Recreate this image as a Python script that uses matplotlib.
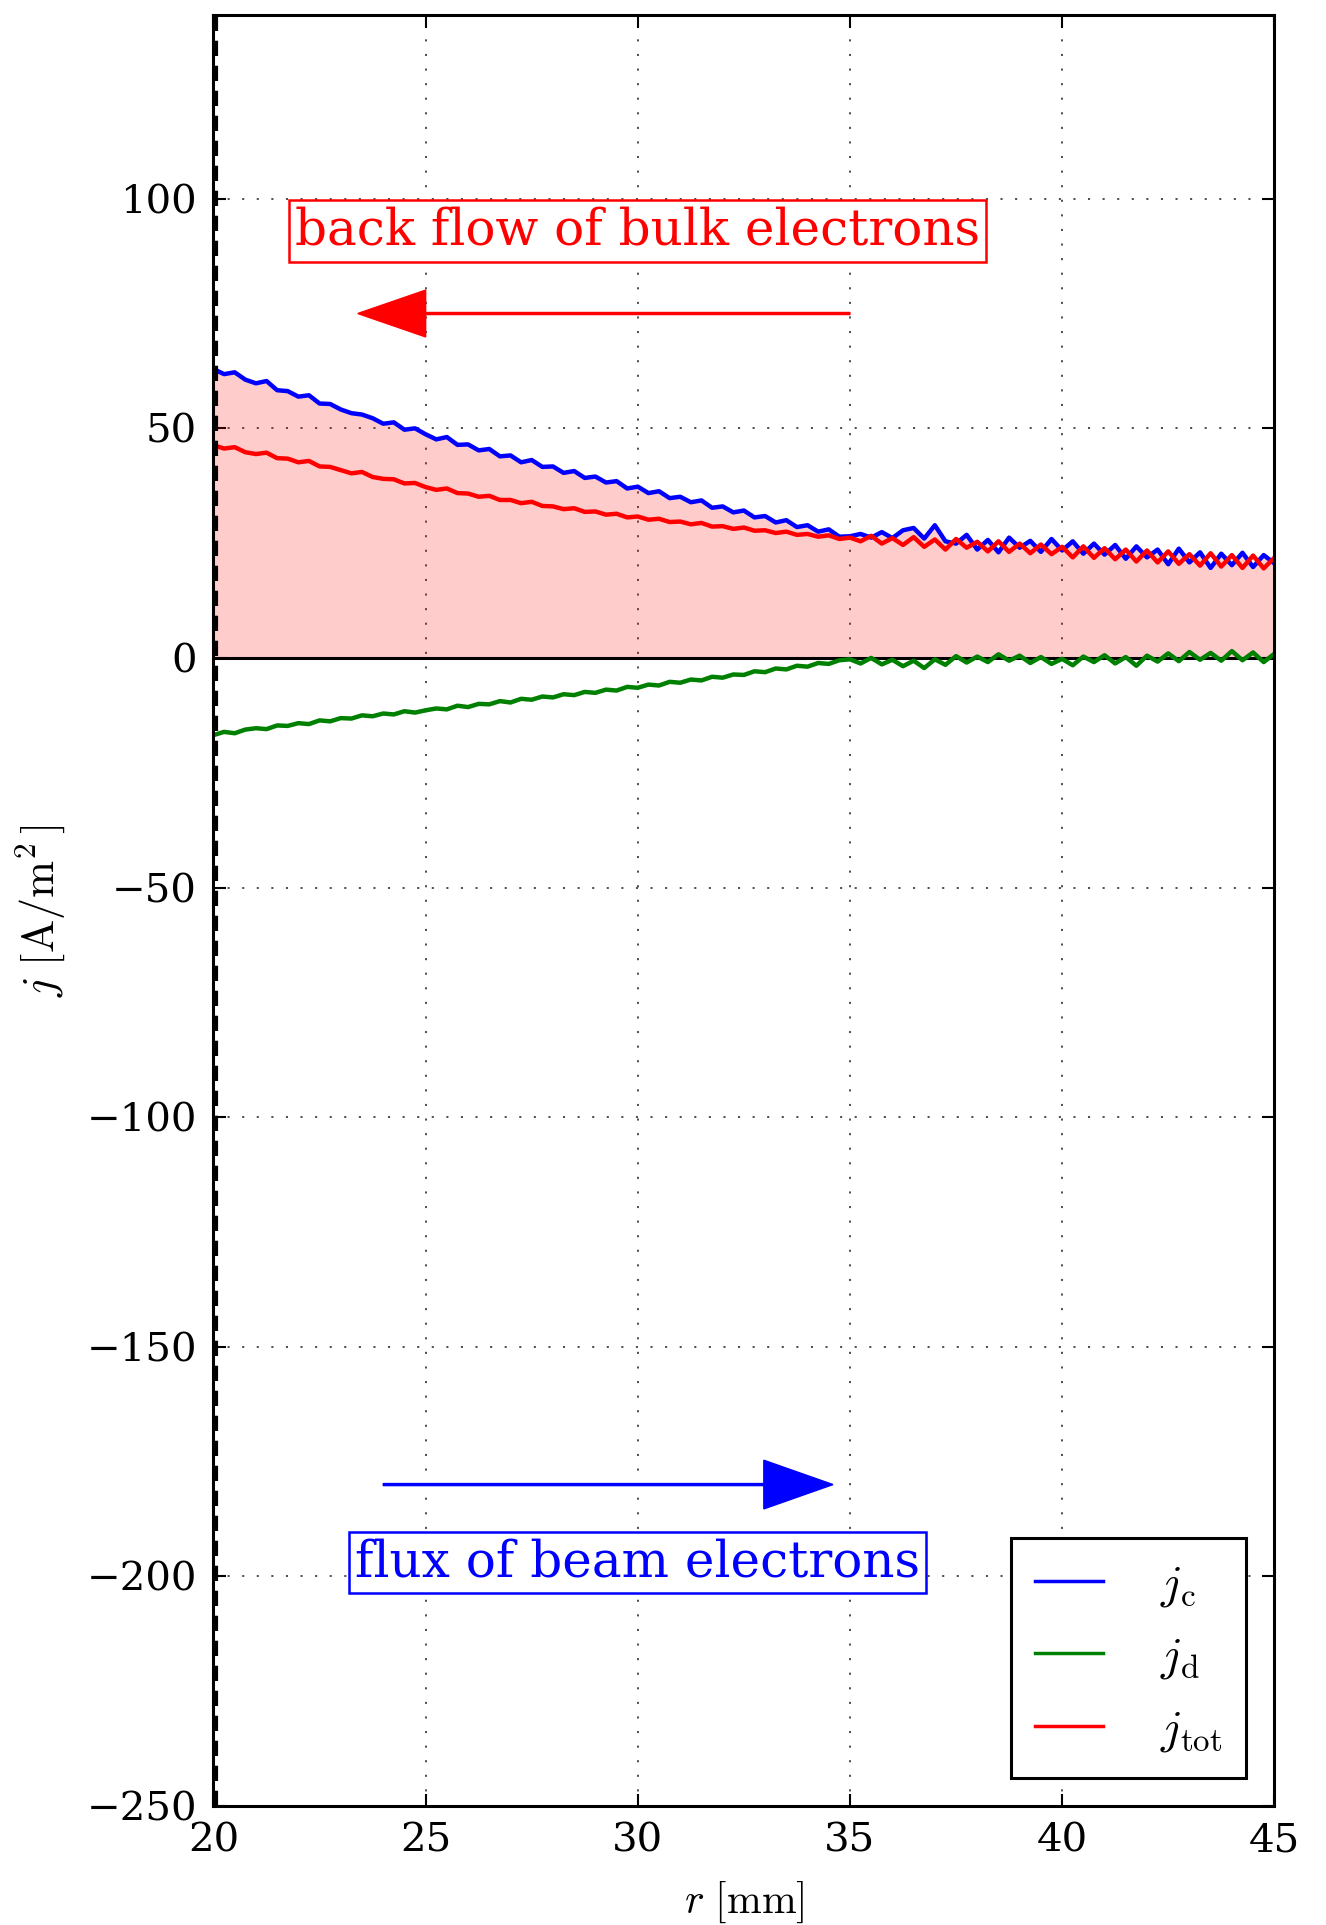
import numpy as np
import matplotlib
matplotlib.use("Agg")
import matplotlib.pyplot as plt

plt.rcParams["font.family"] = ["DejaVu Serif"]
plt.rcParams["mathtext.fontset"] = "cm"
plt.rcParams["lines.scale_dashes"] = False

# radial sampling grid [mm]
r_mm = np.linspace(20.0, 45.0, 101)

# conduction current density j_c [A/m^2]
j_c = [
    62.9, 61.8, 62.2, 60.6, 59.8, 60.3, 58.3, 58.1, 56.9, 57.2,
    55.4, 55.3, 54.1, 53.3, 53.0, 52.2, 51.0, 51.3, 49.7, 50.0,
    48.7, 47.6, 48.1, 46.4, 46.5, 45.2, 45.5, 43.9, 44.1, 42.6,
    43.1, 41.6, 41.7, 40.3, 40.7, 39.2, 39.5, 38.2, 38.5, 36.9,
    37.3, 35.9, 36.3, 34.8, 35.1, 33.9, 34.3, 32.7, 33.0, 31.7,
    32.1, 30.6, 30.9, 29.5, 30.0, 28.5, 28.9, 27.5, 28.0, 26.4,
    26.5, 27.0, 26.2, 27.4, 26.1, 27.8, 28.3, 26.0, 28.9, 25.4,
    24.9, 26.8, 23.6, 25.7, 23.0, 26.2, 24.0, 25.5, 23.1, 25.9,
    23.4, 25.4, 22.7, 24.9, 22.5, 24.6, 21.6, 24.3, 21.9, 23.6,
    20.4, 23.8, 20.8, 23.0, 19.6, 22.7, 20.2, 22.9, 19.8, 22.4,
    20.6,
]

# displacement current density j_d [A/m^2]
j_d = [
    -16.8, -16.1, -16.4, -15.6, -15.3, -15.5, -14.7, -14.8, -14.2, -14.4,
    -13.6, -13.8, -13.1, -13.2, -12.5, -12.7, -12.1, -12.3, -11.6, -11.9,
    -11.4, -11.0, -11.2, -10.4, -10.7, -10.0, -10.1, -9.4, -9.7, -8.9,
    -9.1, -8.4, -8.6, -7.9, -8.1, -7.4, -7.6, -6.9, -7.1, -6.3,
    -6.5, -5.8, -6.0, -5.2, -5.4, -4.7, -4.9, -4.1, -4.3, -3.6,
    -3.7, -2.9, -3.1, -2.3, -2.5, -1.7, -1.9, -1.1, -1.3, -0.5,
    -0.3, -1.2, 0.0, -1.4, -0.4, -1.8, -0.6, -2.2, -0.3, -1.5,
    0.4, -1.0, 0.3, -0.9, 0.8, -0.6, 0.5, -1.1, 0.2, -1.3,
    -0.2, -1.6, 0.3, -0.9, 0.6, -1.2, 0.2, -1.7, 0.5, -0.8,
    1.0, -0.7, 1.3, -0.4, 1.1, -0.6, 1.5, -0.5, 1.2, -0.9,
    0.9,
]

# total current density j_tot [A/m^2]
j_tot = [
    46.3, 45.6, 45.9, 44.8, 44.4, 44.7, 43.5, 43.4, 42.6, 42.9,
    41.7, 41.6, 40.9, 40.2, 40.5, 39.4, 39.0, 38.9, 38.0, 38.1,
    37.2, 36.6, 36.9, 35.9, 35.8, 35.1, 35.3, 34.4, 34.4, 33.7,
    34.0, 33.1, 33.0, 32.4, 32.6, 31.8, 31.9, 31.2, 31.4, 30.6,
    30.8, 30.1, 30.3, 29.6, 29.7, 29.1, 29.4, 28.6, 28.7, 28.1,
    28.4, 27.7, 27.8, 27.2, 27.5, 26.8, 27.0, 26.4, 26.7, 25.9,
    26.2, 25.4, 26.6, 24.9, 26.1, 24.6, 26.3, 24.2, 25.8, 23.6,
    25.9, 24.0, 25.3, 23.2, 25.4, 23.1, 24.9, 22.8, 24.7, 22.6,
    24.2, 21.9, 24.3, 21.8, 23.9, 21.5, 23.6, 21.0, 23.4, 20.8,
    23.2, 20.5, 22.6, 20.1, 22.8, 19.9, 22.4, 19.6, 22.3, 19.5,
    21.8,
]

x_ticks = [20, 25, 30, 35, 40, 45]
y_ticks = [-250, -200, -150, -100, -50, 0, 50, 100]

fig = plt.figure(figsize=(13.26, 19.25), dpi=100)
ax = fig.add_axes([0.161, 0.0618, 0.800, 0.9304])

# shaded conduction current
ax.fill_between(r_mm, 0, j_c, color="red", alpha=0.2, lw=0, zorder=1)

ax.plot(r_mm, j_c, color="blue", lw=3.2, label=r"$j_\mathrm{c}$", zorder=3)
ax.plot(r_mm, j_d, color="green", lw=3.2, label=r"$j_\mathrm{d}$", zorder=3)
ax.plot(r_mm, j_tot, color="red", lw=3.2, label=r"$j_\mathrm{tot}$", zorder=4)

# zero line and inner boundary
ax.axhline(0, color="black", lw=2.2, zorder=2)
ax.axvline(20.05, color="black", lw=3.0, dashes=(11, 7), zorder=7)

ax.set_xlim(20, 45)
ax.set_ylim(-250, 140)
ax.set_xticks(x_ticks)
ax.set_yticks(y_ticks)
ax.set_yticklabels([f"{v}".replace("-", "\u2212") for v in y_ticks])

ax.grid(True, color="0.25", lw=1.3, dashes=(1.5, 9))
ax.set_axisbelow(True)

ax.tick_params(direction="in", length=9, width=1.5, top=True, right=True,
               labelsize=29, pad=12)
for sp in ax.spines.values():
    sp.set_linewidth(2.2)
    sp.set_zorder(6)

ax.set_xlabel(r"$r\ [\mathrm{mm}]$", fontsize=30, labelpad=14)
ax.set_ylabel(r"$j\ [\mathrm{A/m^2}\,]$", fontsize=32, labelpad=14)

# direction annotations
ax.arrow(35.0, 75, -11.6, 0, width=0.45, head_width=10.2, head_length=1.6,
         length_includes_head=True, fc="red", ec="red", zorder=5)
ax.text(30.0, 93, "back flow of bulk electrons", color="red", fontsize=36,
        ha="center", va="center", zorder=6,
        bbox=dict(boxstyle="square,pad=0.12", fc="white", ec="red", lw=1.8))

ax.arrow(24.0, -180, 10.6, 0, width=0.45, head_width=10.6, head_length=1.63,
         length_includes_head=True, fc="blue", ec="blue", zorder=5)
ax.text(30.0, -197, "flux of beam electrons", color="blue", fontsize=36,
        ha="center", va="center", zorder=6,
        bbox=dict(boxstyle="square,pad=0.12", fc="white", ec="blue", lw=1.8))

leg = ax.legend(loc="lower right", fontsize=34, frameon=True, fancybox=False,
                framealpha=1, edgecolor="black", handlelength=1.45,
                handletextpad=1.2, labelspacing=0.55, borderpad=0.5,
                borderaxespad=0.6)
leg.get_frame().set_linewidth(2.2)
for h in leg.get_lines():
    h.set_linewidth(2.5)

fig.savefig("out.png", dpi=100)
